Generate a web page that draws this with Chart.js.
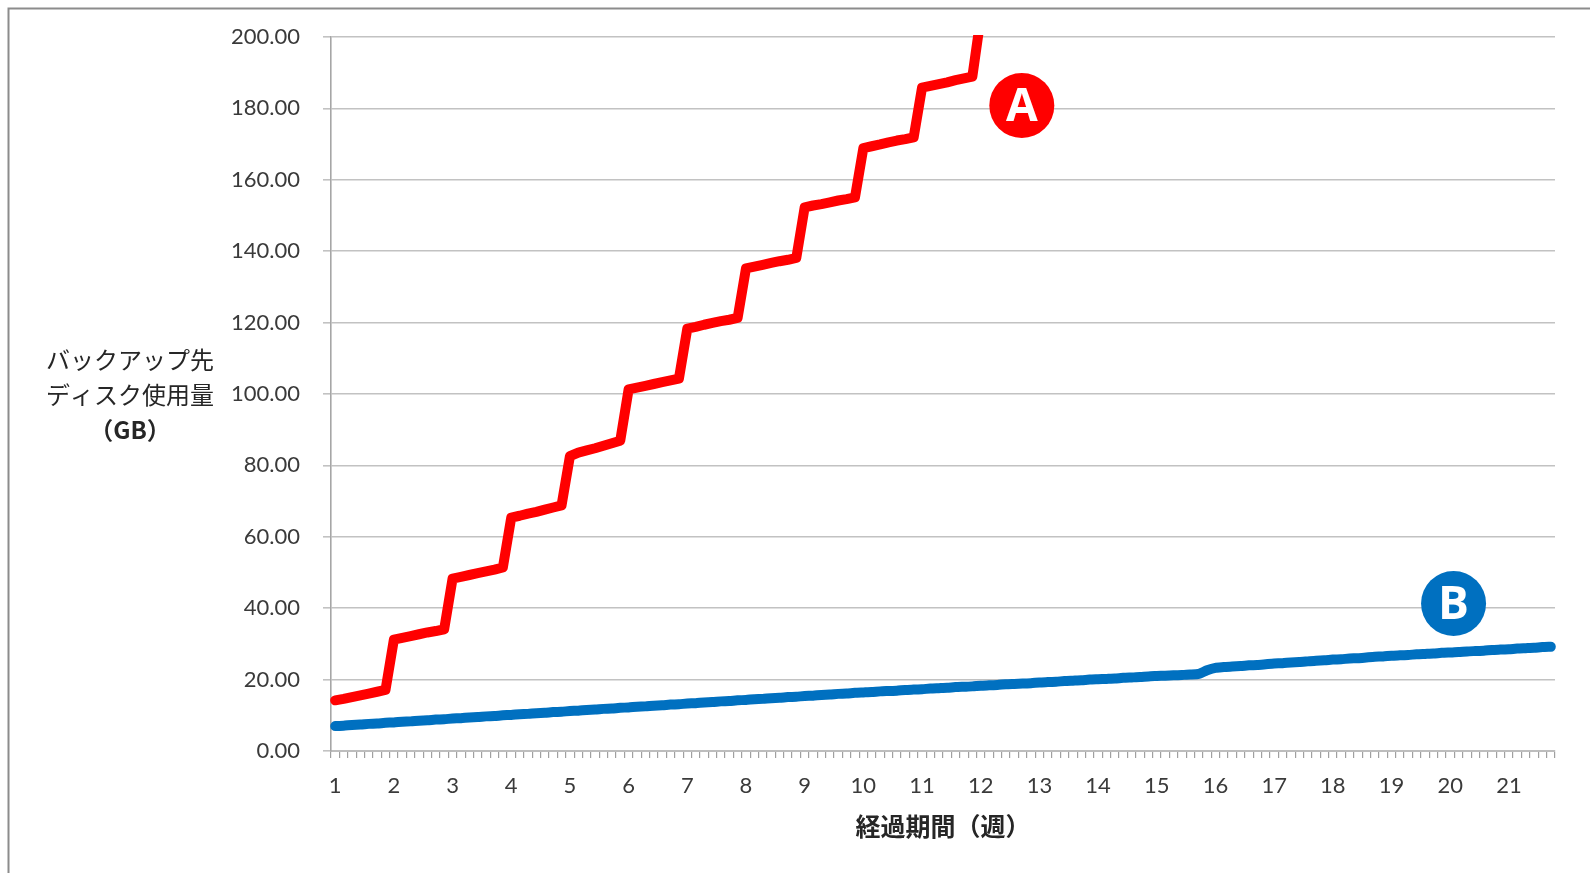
<!DOCTYPE html>
<html>
<head>
<meta charset="utf-8">
<script src="https://cdn.jsdelivr.net/npm/chart.js@4.4.1/dist/chart.umd.min.js"></script>
<style>
  html, body { margin: 0; padding: 0; background: #ffffff; }
  #wrap { width: 1590px; height: 873px; position: relative; }
</style>
</head>
<body>
<div id="wrap"><canvas id="usage" width="1590" height="873"></canvas></div>
<script>
// Week numbers shown under the axis (each week spans 7 daily categories)
const weekLabels = ['1','2','3','4','5','6','7','8','9','10','11','12','13','14','15','16','17','18','19','20','21'];
const daysInLastWeek = 6;

// Method A: weekly full backup + daily incrementals (GB)
const seriesA = [
  14.2, 14.6, 15.1, 15.6, 16.1, 16.6, 17.1,
  31.2, 31.7, 32.2, 32.7, 33.2, 33.6, 34.1,
  48.3, 48.8, 49.3, 49.8, 50.3, 50.8, 51.4,
  65.4, 65.9, 66.5, 67.0, 67.6, 68.2, 68.8,
  82.6, 83.6, 84.2, 84.8, 85.5, 86.2, 86.9,
  101.3, 101.8, 102.3, 102.8, 103.3, 103.8, 104.3,
  118.3, 118.8, 119.4, 119.9, 120.4, 120.8, 121.3,
  135.2, 135.7, 136.2, 136.7, 137.2, 137.6, 138.1,
  152.3, 152.8, 153.2, 153.7, 154.2, 154.6, 155.1,
  168.9, 169.4, 169.9, 170.5, 171.0, 171.4, 171.9,
  185.8, 186.3, 186.8, 187.3, 187.9, 188.4, 188.9,
  205.5
];

// Method B: deduplicated backup store (GB)
const seriesB = [
  7.0, 7.1, 7.3, 7.4, 7.6, 7.7, 7.9,
  8.0, 8.2, 8.3, 8.5, 8.6, 8.8, 8.9,
  9.1, 9.2, 9.4, 9.5, 9.7, 9.8, 10.0,
  10.1, 10.3, 10.4, 10.6, 10.7, 10.9, 11.0,
  11.2, 11.3, 11.5, 11.6, 11.8, 11.9, 12.1,
  12.2, 12.4, 12.5, 12.7, 12.8, 13.0, 13.1,
  13.3, 13.4, 13.6, 13.7, 13.9, 14.0, 14.2,
  14.3, 14.5, 14.6, 14.8, 14.9, 15.1, 15.2,
  15.4, 15.5, 15.7, 15.8, 16.0, 16.1, 16.3,
  16.4, 16.5, 16.7, 16.8, 16.9, 17.1, 17.2,
  17.3, 17.5, 17.6, 17.7, 17.9, 18.0, 18.1,
  18.3, 18.4, 18.5, 18.7, 18.8, 18.9, 19.0,
  19.2, 19.3, 19.4, 19.6, 19.7, 19.8, 20.0,
  20.1, 20.2, 20.3, 20.5, 20.6, 20.7, 20.9,
  21.0, 21.1, 21.2, 21.3, 21.4, 21.6, 22.6,
  23.3, 23.5, 23.7, 23.8, 24.0, 24.1, 24.3,
  24.5, 24.6, 24.8, 24.9, 25.1, 25.3, 25.4,
  25.6, 25.7, 25.9, 26.0, 26.2, 26.4, 26.5,
  26.7, 26.8, 26.9, 27.1, 27.2, 27.3, 27.5,
  27.6, 27.7, 27.9, 28.0, 28.1, 28.3, 28.4,
  28.5, 28.7, 28.8, 28.9, 29.1, 29.2
];

const yAxisTitle = ['バックアップ先', 'ディスク使用量', '（GB）'];
const xAxisTitle = '経過期間（週）';

// Circled markers naming each series, anchored in (day, GB)
const markers = [
  { letter: 'A', color: '#ff0000', day: 82.9, gb: 180.8 },
  { letter: 'B', color: '#0070c0', day: 134.4, gb: 41.3 }
];

// One category per day
const dayLabels = [];
weekLabels.forEach((w, wi) => {
  const n = wi === weekLabels.length - 1 ? daysInLastWeek : 7;
  for (let d = 0; d < n; d++) dayLabels.push(wi * 7 + d + 1);
});

const numFont = { family: 'Lato, "Liberation Sans", sans-serif', size: 22 };
const jpFamily = '"Noto Sans CJK JP", sans-serif';

const decor = {
  id: 'decor',
  beforeDraw(chart) {
    const ctx = chart.ctx;
    ctx.save();
    ctx.fillStyle = '#ffffff';
    ctx.fillRect(0, 0, chart.width, chart.height);
    ctx.strokeStyle = '#8c8c8c';
    ctx.lineWidth = 2;
    ctx.beginPath();
    ctx.moveTo(8.5, chart.height);
    ctx.lineTo(8.5, 8.5);
    ctx.lineTo(chart.width, 8.5);
    ctx.stroke();
    ctx.restore();
  },
  afterDraw(chart) {
    const ctx = chart.ctx;
    const area = chart.chartArea;
    const xs = chart.scales.x, ys = chart.scales.y;
    ctx.save();
    // horizontal, three-line value-axis title
    ctx.fillStyle = '#262626';
    ctx.textAlign = 'center';
    ctx.textBaseline = 'middle';
    const cy = (area.top + area.bottom) / 2 + 1;
    yAxisTitle.forEach((line, i) => {
      ctx.font = (i === 2 ? 'bold ' : '') + '24px ' + jpFamily;
      ctx.fillText(line, 130, cy + (i - 1) * 35);
    });
    // series markers
    markers.forEach(m => {
      const x = xs.getPixelForValue(m.day - 1);
      const y = ys.getPixelForValue(m.gb);
      ctx.fillStyle = m.color;
      ctx.beginPath();
      ctx.arc(x, y, 32.5, 0, Math.PI * 2);
      ctx.fill();
      ctx.fillStyle = '#ffffff';
      ctx.font = 'bold 46px "Open Sans", "Liberation Sans", sans-serif';
      ctx.textBaseline = 'middle';
      ctx.fillText(m.letter, x, y + 2);
    });
    ctx.restore();
  }
};

new Chart(document.getElementById('usage'), {
  type: 'line',
  data: {
    labels: dayLabels,
    datasets: [
      {
        label: 'A',
        data: seriesA,
        borderColor: '#ff0000',
        borderWidth: 10,
        borderJoinStyle: 'round',
        borderCapStyle: 'round',
        pointRadius: 0,
        tension: 0,
        fill: false,
        clip: { left: 6, right: 6, top: 2, bottom: 6 }
      },
      {
        label: 'B',
        data: seriesB,
        borderColor: '#0070c0',
        borderWidth: 10,
        borderJoinStyle: 'round',
        borderCapStyle: 'round',
        pointRadius: 0,
        tension: 0.2,
        fill: false,
        clip: 6
      }
    ]
  },
  options: {
    responsive: false,
    devicePixelRatio: 1,
    animation: false,
    events: [],
    layout: { padding: { left: 0, right: 35, top: 37, bottom: 0 } },
    plugins: { legend: { display: false }, tooltip: { enabled: false }, title: { display: false } },
    scales: {
      x: {
        type: 'category',
        offset: true,
        grid: { offset: true, drawOnChartArea: false, drawTicks: true, tickLength: 7, color: '#a0a0a0', lineWidth: 1.2 },
        border: { display: true, color: '#bdbdbd', width: 2 },
        ticks: {
          autoSkip: false,
          maxRotation: 0,
          minRotation: 0,
          padding: 15,
          color: '#3a3a3a',
          font: numFont,
          callback: (v, i) => (i % 7 === 0 ? weekLabels[i / 7] : '')
        },
        title: {
          display: true,
          text: xAxisTitle,
          color: '#262626',
          font: { family: jpFamily, size: 25, weight: 'bold' },
          padding: { top: 0, bottom: 32 }
        },
        afterFit: s => { s.height = 122; }
      },
      y: {
        min: 0,
        max: 200,
        grid: { color: '#c2c2c2', lineWidth: 1.6, drawTicks: true, tickLength: 8 },
        border: { display: true, color: '#a6a6a6', width: 1.6 },
        ticks: {
          stepSize: 20,
          padding: 23,
          color: '#3a3a3a',
          font: numFont,
          callback: v => v.toFixed(2)
        },
        afterFit: s => { s.width = 331; }
      }
    }
  },
  plugins: [decor]
});
</script>
</body>
</html>
